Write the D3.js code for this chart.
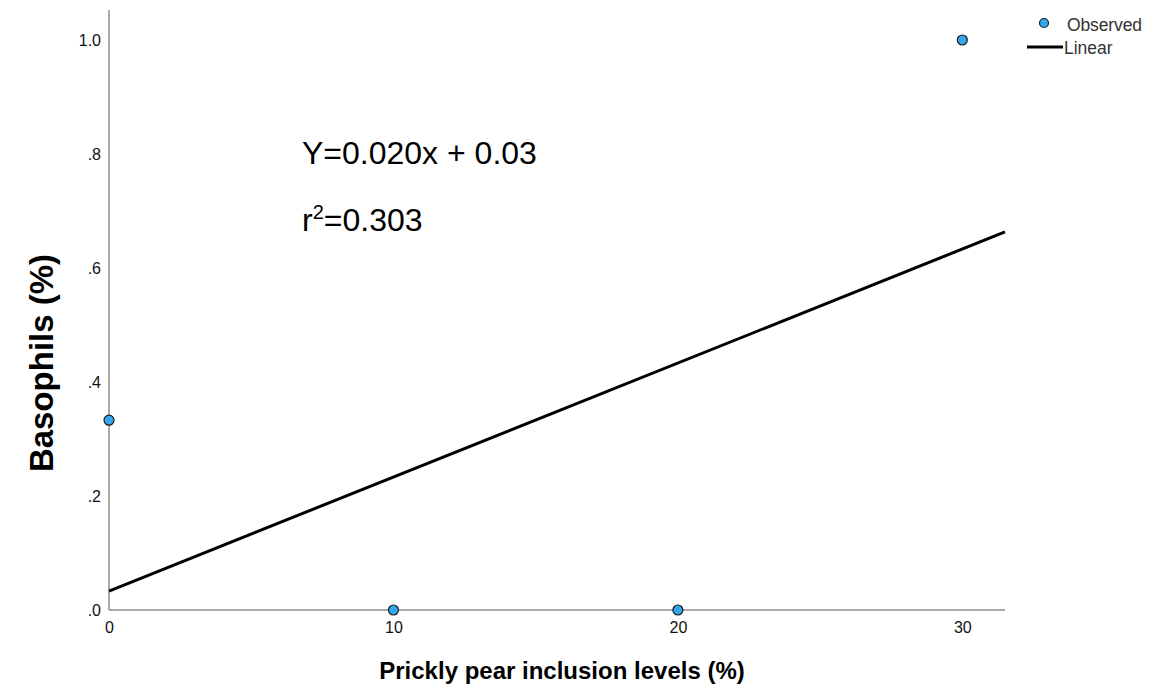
<!DOCTYPE html>
<html>
<head>
<meta charset="utf-8">
<script src="https://cdn.jsdelivr.net/npm/d3@7"></script>
<style>
  body { margin: 0; background: #fff; }
  text { font-family: Arial, "Liberation Sans", sans-serif; }
</style>
</head>
<body>
<svg id="chart" width="1153" height="691"></svg>
<script>
// observed points
var levels = [0, 10, 20, 30]
var basophils = [0.333, 0, 0, 1.0]

// fitted line, y = a + b x
var slope = 0.020
var intercept = 0.0333

var xTicks = [0, 10, 20, 30]
var yTicks = [0, 0.2, 0.4, 0.6, 0.8, 1.0]
var yTickLabels = [".0", ".2", ".4", ".6", ".8", "1.0"]

var svg = d3.select("#chart")
var m = { left: 109, right: 1005, top: 10, bottom: 610 }

var x = d3.scaleLinear().domain([0, 31.5]).range([m.left, m.right])
var y = d3.scaleLinear().domain([0, 1]).range([m.bottom, 40])

var font = "Arial, 'Liberation Sans', sans-serif"

// axes
var xAxis = svg.append("g")
  .attr("transform", "translate(0," + m.bottom + ")")
  .call(d3.axisBottom(x).tickValues(xTicks).tickSize(0).tickPadding(12).tickFormat(d3.format("d")))
xAxis.select(".domain").attr("stroke", "#8c8c8c").attr("stroke-width", 1.5)
  .attr("d", "M" + m.left + ",0H" + m.right)
xAxis.selectAll("text").attr("font-size", 16).attr("fill", "#111")
  .attr("font-family", font)

var yAxis = svg.append("g")
  .attr("transform", "translate(" + m.left + ",0)")
  .call(d3.axisLeft(y).tickValues(yTicks).tickSize(0).tickPadding(8)
    .tickFormat(function(d, i) { return yTickLabels[i] }))
yAxis.select(".domain").attr("stroke", "#8c8c8c").attr("stroke-width", 1.5)
  .attr("d", "M0," + m.top + "V" + m.bottom)
yAxis.selectAll("text").attr("font-size", 16).attr("fill", "#111")
  .attr("font-family", font)

// regression line
svg.append("line")
  .attr("x1", x(0)).attr("y1", y(intercept))
  .attr("x2", x(31.5)).attr("y2", y(intercept + slope * 31.5))
  .attr("stroke", "#000").attr("stroke-width", 3)

// points
svg.append("g").selectAll("circle")
  .data(levels)
  .join("circle")
  .attr("cx", function(d) { return x(d) })
  .attr("cy", function(d, i) { return y(basophils[i]) })
  .attr("r", 5)
  .attr("fill", "#33a6f0")
  .attr("stroke", "#1a1a1a")
  .attr("stroke-width", 1.2)

// equation
svg.append("text").attr("x", 302).attr("y", 164)
  .attr("font-size", 32).attr("fill", "#000")
  .text("Y=0.020x + 0.03")
var r2 = svg.append("text").attr("x", 302).attr("y", 231)
  .attr("font-size", 32).attr("fill", "#000")
r2.append("tspan").text("r")
r2.append("tspan").attr("font-size", 20).attr("dy", -12).text("2")
r2.append("tspan").attr("dy", 12).text("=0.303")

// axis titles
svg.append("text")
  .attr("x", 562).attr("y", 679)
  .attr("text-anchor", "middle")
  .attr("font-size", 24).attr("font-weight", "bold")
  .text("Prickly pear inclusion levels (%)")

svg.append("text")
  .attr("transform", "translate(53,363) rotate(-90)")
  .attr("text-anchor", "middle")
  .attr("font-size", 33).attr("font-weight", "bold")
  .text("Basophils (%)")

// legend
var legend = svg.append("g")
legend.append("circle").attr("cx", 1044).attr("cy", 23).attr("r", 4.5)
  .attr("fill", "#33a6f0").attr("stroke", "#1a1a1a").attr("stroke-width", 1.2)
legend.append("text").attr("x", 1067).attr("y", 31)
  .attr("font-size", 17.5).attr("fill", "#333").attr("textLength", 75)
  .text("Observed")
legend.append("line").attr("x1", 1027).attr("x2", 1063).attr("y1", 47).attr("y2", 47)
  .attr("stroke", "#000").attr("stroke-width", 3)
legend.append("text").attr("x", 1064).attr("y", 54)
  .attr("font-size", 17.5).attr("fill", "#333")
  .text("Linear")
</script>
</body>
</html>
